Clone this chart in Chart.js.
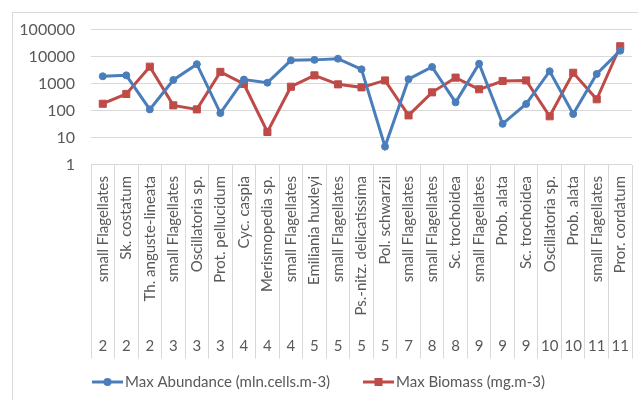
<!DOCTYPE html>
<html>
<head>
<meta charset="utf-8">
<script src="https://cdn.jsdelivr.net/npm/chart.js@4/dist/chart.umd.min.js"></script>
<style>
  html, body { margin: 0; padding: 0; background: #ffffff; }
  #wrap { width: 638px; height: 400px; }
</style>
</head>
<body>
<div id="wrap"><canvas id="chart" width="638" height="400"></canvas></div>
<script>
// Dominant phytoplankton species by month
const species = [
  'small Flagellates', 'Sk. costatum', 'Th. anguste-lineata',
  'small Flagellates', 'Oscillatoria sp.', 'Prot. pellucidum',
  'Cyc. caspia', 'Merismopedia sp.', 'small Flagellates',
  'Emiliania huxleyi', 'small Flagellates', 'Ps.-nitz. delicatissima',
  'Pol. schwarzii', 'small Flagellates', 'small Flagellates',
  'Sc. trochoidea', 'small Flagellates', 'Prob. alata',
  'Sc. trochoidea', 'Oscillatoria sp.', 'Prob. alata',
  'small Flagellates', 'Pror. cordatum'
];
const months = [2, 2, 2, 3, 3, 3, 4, 4, 4, 5, 5, 5, 5, 7, 8, 8, 9, 9, 9, 10, 10, 11, 11];

const maxAbundance = [
  1850, 2000, 110, 1350, 5200, 80, 1400, 1070, 7200, 7500, 8300, 3350,
  4.6, 1450, 4100, 200, 5400, 32, 175, 2850, 74, 2250, 16500
];
const maxBiomass = [
  178, 410, 4200, 155, 110, 2700, 960, 16, 760, 2000, 930, 720,
  1300, 66, 470, 1650, 610, 1240, 1300, 61, 2500, 260, 24000
];

const yTicks = [1, 10, 100, 1000, 10000, 100000];

const BLUE = '#4A7EBB';
const RED = '#BE4B48';
const TEXT = '#595959';
const GRID = '#D9D9D9';
const FONT = 'Lato, "Liberation Sans", sans-serif';

// Outer frame, two-row category labels and the legend
const decorations = {
  id: 'decorations',
  beforeDraw(chart) {
    const ctx = chart.ctx;
    ctx.save();
    ctx.strokeStyle = GRID;
    ctx.lineWidth = 1;
    ctx.strokeRect(12.5, 12.5, 700, 500);
    ctx.restore();
  },
  afterDraw(chart) {
    const ctx = chart.ctx;
    const xs = chart.scales.x;
    ctx.save();
    ctx.fillStyle = TEXT;
    species.forEach((name, i) => {
      const x = xs.getPixelForValue(i);
      ctx.save();
      ctx.translate(x, 176);
      ctx.rotate(-Math.PI / 2);
      ctx.font = '15px ' + FONT;
      ctx.textAlign = 'right';
      ctx.textBaseline = 'middle';
      ctx.fillText(name, 0, 0);
      ctx.restore();
      ctx.font = '15px ' + FONT;
      ctx.textAlign = 'center';
      ctx.textBaseline = 'middle';
      ctx.fillText(String(months[i]), x, 346);
    });

    // legend
    const items = [
      { x: 92, text: 'Max Abundance (mln.cells.m-3)', color: BLUE, shape: 'circle' },
      { x: 363, text: 'Max Biomass (mg.m-3)', color: RED, shape: 'rect' }
    ];
    const ly = 382;
    items.forEach(it => {
      ctx.strokeStyle = it.color;
      ctx.lineWidth = 3;
      ctx.beginPath();
      ctx.moveTo(it.x, ly);
      ctx.lineTo(it.x + 31, ly);
      ctx.stroke();
      ctx.fillStyle = it.color;
      const cx = it.x + 15.5;
      if (it.shape === 'circle') {
        ctx.beginPath();
        ctx.arc(cx, ly, 4, 0, Math.PI * 2);
        ctx.fill();
      } else {
        ctx.fillRect(cx - 4, ly - 4, 8, 8);
      }
      ctx.fillStyle = TEXT;
      ctx.font = '15px ' + FONT;
      ctx.textAlign = 'left';
      ctx.textBaseline = 'middle';
      ctx.fillText(it.text, it.x + 33, ly);
    });
    ctx.restore();
  }
};

new Chart(document.getElementById('chart'), {
  type: 'line',
  data: {
    labels: species,
    datasets: [
      {
        label: 'Max Abundance (mln.cells.m-3)',
        data: maxAbundance,
        borderColor: BLUE,
        backgroundColor: BLUE,
        borderWidth: 3,
        pointStyle: 'circle',
        pointRadius: 3.5,
        pointBorderWidth: 1,
        tension: 0
      },
      {
        label: 'Max Biomass (mg.m-3)',
        data: maxBiomass,
        borderColor: RED,
        backgroundColor: RED,
        borderWidth: 3,
        pointStyle: 'rect',
        pointRadius: 5,
        pointBorderWidth: 1,
        tension: 0
      }
    ]
  },
  options: {
    responsive: false,
    animation: false,
    devicePixelRatio: 1,
    layout: { padding: { left: 0, right: 4, top: 29.5, bottom: 0 } },
    plugins: {
      legend: { display: false },
      tooltip: { enabled: false }
    },
    scales: {
      x: {
        type: 'category',
        offset: true,
        ticks: { display: false },
        grid: {
          offset: true,
          drawOnChartArea: false,
          drawTicks: true,
          tickLength: 194,
          color: GRID,
          lineWidth: 1
        },
        border: { display: false },
        afterFit(scale) { scale.height = 400 - 164.5; }
      },
      y: {
        type: 'logarithmic',
        min: 1,
        max: 100000,
        afterBuildTicks(scale) {
          scale.ticks = yTicks.map(v => ({ value: v }));
        },
        ticks: {
          color: TEXT,
          font: { family: FONT, size: 16 },
          padding: 16,
          callback: (v) => String(v)
        },
        grid: { color: GRID, lineWidth: 1, drawTicks: false },
        border: { display: false },
        afterFit(scale) { scale.width = 91; }
      }
    }
  },
  plugins: [decorations]
});
</script>
</body>
</html>
